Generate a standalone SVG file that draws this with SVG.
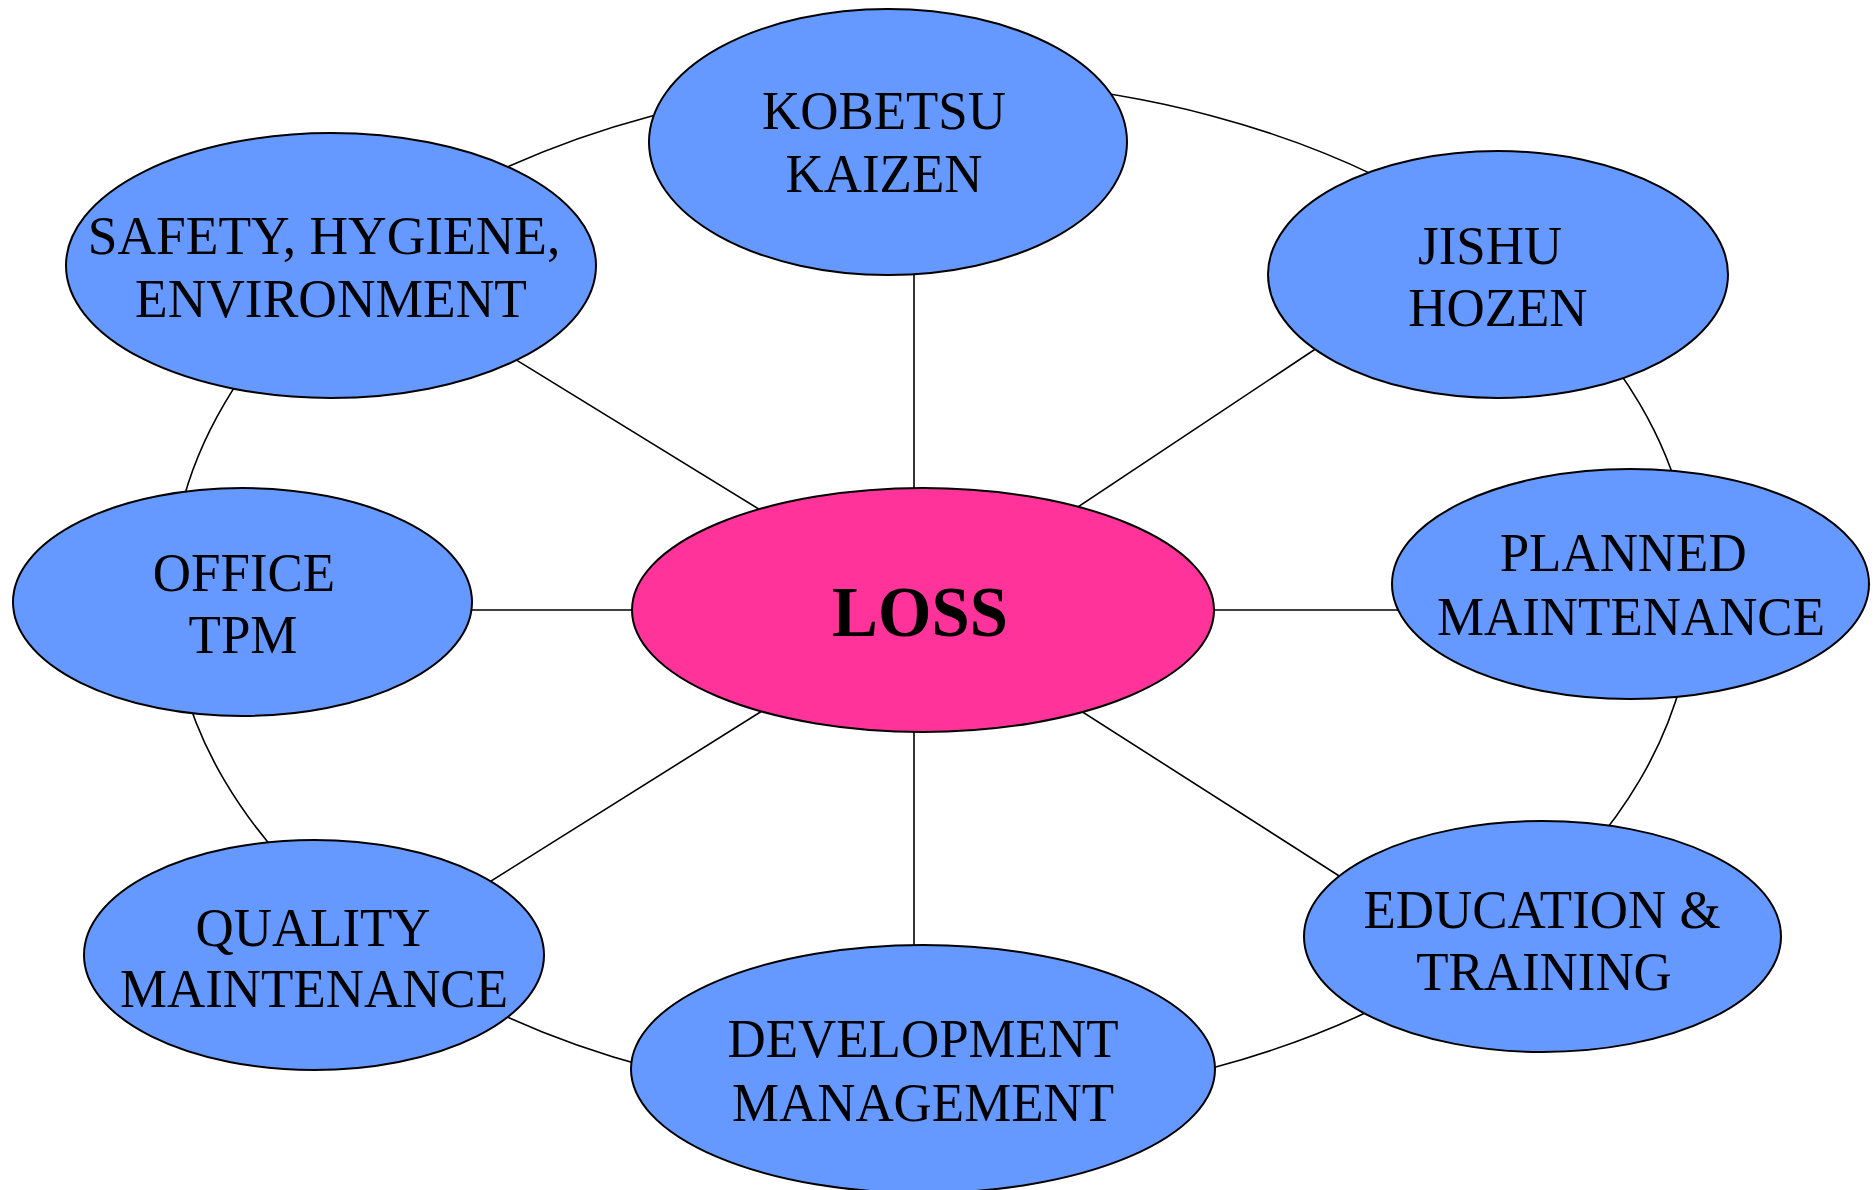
<svg xmlns="http://www.w3.org/2000/svg" width="1874" height="1190" viewBox="0 0 1874 1190">
<style>
.bg{fill:#ffffff}
.node{fill:#6699ff;stroke:#000;stroke-width:2}
.center{fill:#ff3399;stroke:#000;stroke-width:2}
.conn{stroke:#000;stroke-width:1.6;fill:none}
.t{font-family:"Liberation Serif","Times New Roman",serif;font-size:54px;fill:#000;text-anchor:middle}
.tb{font-family:"Liberation Serif","Times New Roman",serif;font-size:72px;font-weight:bold;fill:#000;text-anchor:middle}
</style>
<rect class="bg" x="0" y="0" width="1874" height="1190"/>
<g id="connectors">
<ellipse class="conn" cx="932" cy="592" rx="761" ry="512"/>
<line class="conn" x1="914" y1="250" x2="914" y2="620"/>
<line class="conn" x1="914" y1="600" x2="914" y2="970"/>
<line class="conn" x1="450" y1="610" x2="1420" y2="610"/>
<line class="conn" x1="923" y1="610" x2="505" y2="353"/>
<line class="conn" x1="923" y1="610" x2="1335" y2="336"/>
<line class="conn" x1="923" y1="610" x2="472" y2="893"/>
<line class="conn" x1="923" y1="610" x2="1358" y2="888"/>
</g>
<g id="node-kobetsu">
<ellipse class="node" cx="888" cy="142" rx="239" ry="133"/>
<text class="t" transform="translate(884,0) scale(0.98,1)"><tspan x="0" y="129">KOBETSU</tspan><tspan x="0" y="192">KAIZEN</tspan></text>
</g>
<g id="node-safety">
<ellipse class="node" cx="331" cy="265.5" rx="265" ry="132.5"/>
<text class="t" transform="translate(328,0) scale(0.99,1)"><tspan x="-4" y="254">SAFETY, HYGIENE,</tspan><tspan x="3" y="317">ENVIRONMENT</tspan></text>
</g>
<g id="node-jishu">
<ellipse class="node" cx="1498" cy="274.5" rx="230" ry="123.5"/>
<text class="t" transform="translate(1494,0) scale(0.98,1)"><tspan x="-4" y="264">JISHU</tspan><tspan x="4" y="326">HOZEN</tspan></text>
</g>
<g id="node-office">
<ellipse class="node" cx="242.5" cy="602" rx="229.5" ry="114"/>
<text class="t" transform="translate(243,0) scale(0.98,1)"><tspan x="1" y="591">OFFICE</tspan><tspan x="0" y="653">TPM</tspan></text>
</g>
<g id="node-planned">
<ellipse class="node" cx="1630.5" cy="584" rx="238.5" ry="115"/>
<text class="t" transform="translate(1630,0) scale(0.98,1)"><tspan x="-7" y="571">PLANNED</tspan><tspan x="1" y="635">MAINTENANCE</tspan></text>
</g>
<g id="node-quality">
<ellipse class="node" cx="314" cy="955" rx="230" ry="115"/>
<text class="t" transform="translate(313,0) scale(0.98,1)"><tspan x="0" y="946">QUALITY</tspan><tspan x="1" y="1007">MAINTENANCE</tspan></text>
</g>
<g id="node-development">
<ellipse class="node" cx="923" cy="1069" rx="292" ry="124"/>
<text class="t" transform="translate(923,0) scale(0.98,1)"><tspan x="0" y="1057">DEVELOPMENT</tspan><tspan x="0" y="1121">MANAGEMENT</tspan></text>
</g>
<g id="node-education">
<ellipse class="node" cx="1542.5" cy="936.5" rx="238.5" ry="115.5"/>
<text class="t" transform="translate(1543,0) scale(0.98,1)"><tspan x="-1" y="928">EDUCATION &amp;</tspan><tspan x="1" y="990">TRAINING</tspan></text>
</g>
<g id="node-loss">
<ellipse class="center" cx="923" cy="610" rx="291" ry="122"/>
<text class="tb" transform="translate(920,0) scale(0.955,1)"><tspan x="0" y="636">LOSS</tspan></text>
</g>
</svg>
